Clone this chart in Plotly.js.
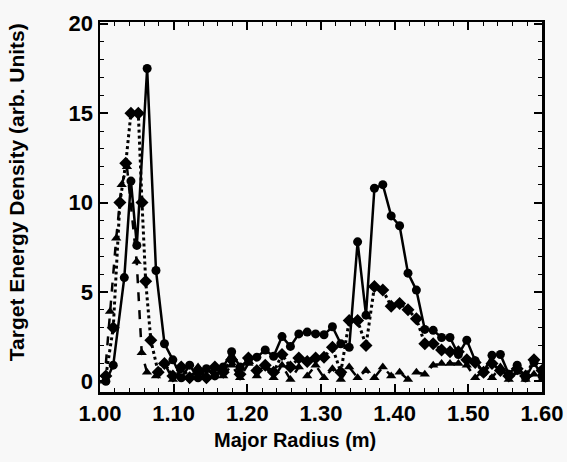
<!DOCTYPE html>
<html>
<head>
<meta charset="utf-8">
<script src="https://cdn.plot.ly/plotly-3.0.1.min.js"></script>
<style>html,body{margin:0;padding:0;background:#f8f8f8;}#chart{width:567px;height:462px;}</style>
</head>
<body>
<div id="chart"></div>
<script>
// Circles (solid line)
const xCircle = [1.008, 1.018, 1.033, 1.042, 1.050, 1.064, 1.076, 1.0875, 1.0989, 1.1103, 1.1217, 1.1331, 1.1445, 1.1559, 1.1673, 1.1787, 1.1901, 1.2015, 1.2129, 1.2243, 1.2357, 1.2471, 1.2585, 1.2699, 1.2813, 1.2927, 1.3041, 1.3155, 1.3269, 1.3383, 1.3497, 1.3611, 1.3725, 1.3839, 1.3953, 1.4067, 1.4181, 1.4295, 1.4409, 1.4523, 1.4637, 1.4751, 1.4865, 1.4979, 1.5093, 1.5207, 1.5321, 1.5435, 1.5549, 1.5663, 1.5777, 1.5891, 1.600];
const yCircle = [0.0, 0.9, 5.8, 11.2, 7.6, 17.5, 6.2, 2.1, 1.2, 0.2, 0.9, 0.2, 0.7, 0.3, 0.8, 1.65, 0.8, 1.2, 1.35, 1.75, 1.4, 2.5, 1.95, 2.65, 2.75, 2.65, 2.6, 3.05, 2.1, 1.9, 7.8, 3.7, 10.8, 11.0, 9.25, 8.7, 6.05, 5.1, 2.9, 2.85, 2.45, 2.45, 1.5, 2.3, 1.15, 0.5, 1.45, 1.5, 0.4, 0.9, 0.2, 1.05, 0.3];

// Diamonds (dotted line)
const xDiamond = [1.008, 1.018, 1.027, 1.035, 1.042, 1.052, 1.057, 1.062, 1.069, 1.079, 1.0875, 1.0989, 1.1103, 1.1217, 1.1331, 1.1445, 1.1559, 1.1673, 1.1787, 1.1901, 1.2015, 1.2129, 1.2243, 1.2357, 1.2471, 1.2585, 1.2699, 1.2813, 1.2927, 1.3041, 1.3155, 1.3269, 1.3383, 1.3497, 1.3611, 1.3725, 1.3839, 1.3953, 1.4067, 1.4181, 1.4295, 1.4409, 1.4523, 1.4637, 1.4751, 1.4865, 1.4979, 1.5093, 1.5207, 1.5321, 1.5435, 1.5549, 1.5663, 1.5777, 1.5891, 1.600];
const yDiamond = [0.3, 3.0, 10.0, 12.2, 15.0, 15.0, 10.0, 5.6, 2.3, 0.5, 1.0, 0.3, 0.8, 0.2, 0.6, 0.2, 0.8, 0.5, 1.2, 0.4, 1.3, 0.6, 0.9, 0.5, 1.5, 0.8, 1.3, 1.1, 1.3, 1.35, 1.9, 0.5, 3.4, 3.4, 2.0, 5.3, 5.1, 4.2, 4.35, 4.0, 3.5, 2.1, 2.1, 1.75, 1.65, 1.65, 1.2, 1.05, 0.5, 1.0, 0.6, 0.3, 0.7, 0.3, 1.2, 0.6];

// Triangles (dashed line)
const xTriangle = [1.006, 1.0136, 1.022, 1.0294, 1.0366, 1.0498, 1.0566, 1.0638, 1.076, 1.0875, 1.0989, 1.1103, 1.1217, 1.1331, 1.1445, 1.1559, 1.1673, 1.1787, 1.1901, 1.2015, 1.2129, 1.2243, 1.2357, 1.2471, 1.2585, 1.2699, 1.2813, 1.2927, 1.3041, 1.3155, 1.3269, 1.3383, 1.3497, 1.3611, 1.3725, 1.3839, 1.3953, 1.4067, 1.4181, 1.4295, 1.4409, 1.4523, 1.4637, 1.4751, 1.4865, 1.4979, 1.5093, 1.5207, 1.5321, 1.5435, 1.5549, 1.5663, 1.5777, 1.5891, 1.600];
const yTriangle = [0.0, 3.9, 8.0, 11.0, 12.0, 6.7, 1.6, 0.5, 0.3, 1.0, 0.1, 0.6, 0.2, 0.8, 0.2, 0.7, 0.3, 0.9, 0.2, 1.0, 0.3, 0.8, 0.2, 0.9, 0.1, 0.8, 0.3, 0.9, 0.2, 0.7, 0.1, 0.8, 0.2, 0.6, 0.2, 0.8, 0.3, 0.5, 0.1, 0.5, 0.4, 0.9, 1.0, 1.0, 1.0, 0.9, 0.2, 0.6, 0.2, 0.8, 0.1, 0.5, 0.1, 0.4, 0.1];

const xTickVals = [1.0, 1.1, 1.2, 1.3, 1.4, 1.5, 1.6];
const xTickText = ['1.00', '1.10', '1.20', '1.30', '1.40', '1.50', '1.60'];
const yTickVals = [0, 5, 10, 15, 20];
const xTitle = 'Major Radius (m)';
const yTitle = 'Target Energy Density (arb. Units)';

const FONT = 'Liberation Sans, Arial, sans-serif';

const traces = [
  {x: xTriangle, y: yTriangle, mode: 'lines+markers', line: {color: '#000', width: 2.5, dash: 'dash'},
   marker: {symbol: 'triangle-up', size: 9, color: '#000'}},
  {x: xDiamond, y: yDiamond, mode: 'lines+markers', line: {color: '#000', width: 3, dash: 'dot'},
   marker: {symbol: 'diamond', size: 10, color: '#000'}},
  {x: xCircle, y: yCircle, mode: 'lines+markers', line: {color: '#000', width: 2.5},
   marker: {symbol: 'circle', size: 9, color: '#000'}}
];

const axisCommon = {
  showline: true, linecolor: '#000', linewidth: 2.5, mirror: 'ticks',
  ticks: 'inside', ticklen: 8, tickwidth: 2, tickcolor: '#000',
  showgrid: false, zeroline: false,
  tickfont: {family: FONT, size: 22, color: '#000', weight: 'bold'}
};

const layout = {
  width: 567, height: 462,
  margin: {l: 100, r: 25, t: 22, b: 70},
  paper_bgcolor: '#f8f8f8', plot_bgcolor: '#f8f8f8',
  showlegend: false,
  xaxis: Object.assign({}, axisCommon, {
    range: [1.0, 1.6], tickvals: xTickVals, ticktext: xTickText,
    minor: {ticks: 'inside', ticklen: 4, tickwidth: 1, tickcolor: '#000', dtick: 0.02}
  }),
  yaxis: Object.assign({}, axisCommon, {
    range: [-0.6, 20.1], tickvals: yTickVals,
    minor: {ticks: 'inside', ticklen: 4, tickwidth: 1, tickcolor: '#000', dtick: 1}
  }),
  annotations: [
    {text: xTitle, xref: 'paper', yref: 'paper', x: 0.441, y: -0.13, xanchor: 'center', yanchor: 'middle',
     showarrow: false, font: {family: FONT, size: 20, color: '#000', weight: 'bold'}},
    {text: yTitle, xref: 'paper', yref: 'paper', x: -0.19, y: 0.54, xanchor: 'center', yanchor: 'middle',
     textangle: -90, showarrow: false, font: {family: FONT, size: 21, color: '#000', weight: 'bold'}}
  ]
};

Plotly.newPlot('chart', traces, layout, {displayModeBar: false, staticPlot: true});
</script>
</body>
</html>
